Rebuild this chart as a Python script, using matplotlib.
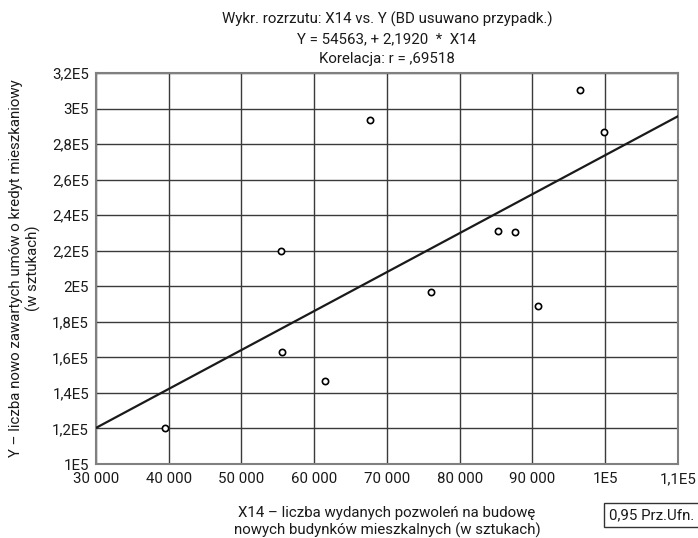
import numpy as np
import matplotlib.pyplot as plt

plt.rcParams['font.family'] = ['Roboto', 'DejaVu Sans']

# data
x14 = [39500, 55400, 55600, 61500, 67600, 76000, 85300, 87600, 90700, 96500, 99850]
y = [120400, 219800, 163300, 146600, 293300, 196700, 231300, 230700, 189100, 310300, 286700]

intercept = 54563
slope = 2.1920
line_x = [30000, 110000]

xticks = [30000, 40000, 50000, 60000, 70000, 80000, 90000, 100000, 110000]
xticklabels = ['30 000', '40 000', '50 000', '60 000', '70 000', '80 000', '90 000', '1E5', '1,1E5']
yticks = [100000, 120000, 140000, 160000, 180000, 200000, 220000, 240000, 260000, 280000, 300000, 320000]
yticklabels = ['1E5', '1,2E5', '1,4E5', '1,6E5', '1,8E5', '2E5', '2,2E5', '2,4E5', '2,6E5', '2,8E5', '3E5', '3,2E5']

fs = 10.8
tc = '#1a1a1a'

fig = plt.figure(figsize=(6.98, 5.38), dpi=100)
ax = fig.add_axes([0.1375, 0.1375, 0.8338, 0.7268])

ax.plot(line_x, [intercept + slope * v for v in line_x], color='#1a1a1a', lw=1.6, zorder=3)
ax.plot(x14, y, 'o', mfc='white', mec='black', mew=1.2, ms=4.5, zorder=4)

ax.set_xlim(30000, 110000)
ax.set_ylim(100000, 320000)
ax.set_xticks(xticks)
ax.set_xticklabels(xticklabels, fontsize=fs, color=tc)
ax.set_yticks(yticks)
ax.set_yticklabels(yticklabels, fontsize=fs, color=tc)
ax.tick_params(axis='x', length=0, pad=6)
ax.tick_params(axis='y', length=0, pad=5)
ax.grid(True, color='#3a3a3a', lw=1.0)
ax.set_axisbelow(True)
for s in ax.spines.values():
    s.set_color('#808080')
    s.set_linewidth(1.5)

ax.set_title('Wykr. rozrzutu: X14 vs. Y (BD usuwano przypadk.)\nY = 54563, + 2,1920  *  X14\nKorelacja: r = ,69518',
             fontsize=fs, color=tc, linespacing=1.5, pad=7)
ax.set_xlabel('X14 \u2013 liczba wydanych pozwoleń na budowę\nnowych budynków mieszkalnych (w sztukach)',
              fontsize=fs, color=tc, labelpad=14, linespacing=1.2)
ax.set_ylabel('Y \u2013 liczba nowo zawartych umów o kredyt mieszkaniowy\n(w sztukach)',
              fontsize=fs, color=tc, labelpad=8, linespacing=1.2)

fig.text(0.934, 0.0425, '0,95 Prz.Ufn.', fontsize=fs, color=tc, ha='center', va='center',
         bbox=dict(boxstyle='square,pad=0.35', fc='white', ec='#333333', lw=1.0))

fig.savefig('out.png', dpi=100)
